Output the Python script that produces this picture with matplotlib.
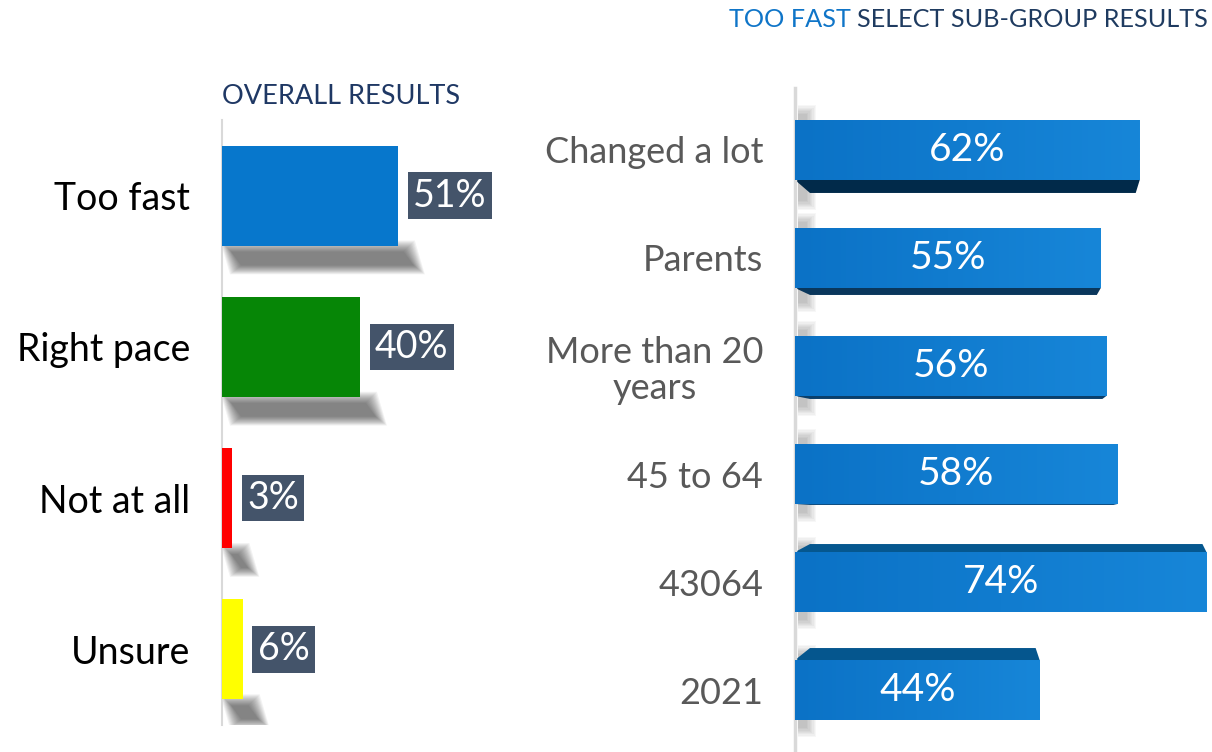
import numpy as np
import matplotlib.pyplot as plt
from matplotlib.patches import Polygon
from matplotlib.colors import LinearSegmentedColormap

plt.rcParams['font.family'] = ['Lato', 'DejaVu Sans']

# data
overall_labels = ["Too fast", "Right pace", "Not at all", "Unsure"]
overall_values = [51, 40, 3, 6]
overall_colors = ["#0777CC", "#068606", "#FF0000", "#FFFF00"]

sub_labels = ["Changed a lot", "Parents", "More than 20\nyears", "45 to 64", "43064", "2021"]
sub_values = [62, 55, 56, 58, 74, 44]

# 3d look of the right bars: depth in px (+ = bottom face visible, - = top face)
sub_depth = [13, 7, 3, 1, -8, -12]
depth_colors = ["#012A4A", "#0A375C", "#0A3F6B", "#0A4A7E", "#05578F", "#05568E"]

W, H = 1212, 752
fig = plt.figure(figsize=(W / 100, H / 100), dpi=100)


def px_axes(l, t, r, b):
    return fig.add_axes([l / W, 1 - b / H, (r - l) / W, (b - t) / H])


# %% left panel
axl = px_axes(222, 120, 522, 725)
n = len(overall_values)
y = np.arange(n)
bh = 0.66
ux = 300 / 87.0   # px per unit x
uy = 605 / 4.0    # px per unit y

for i, v in enumerate(overall_values):
    # soft slanted shadow under the bar
    yb = i + bh / 2
    for k in range(12):
        g = (11 - k) * 1.0
        x0 = (9 - g) / ux
        x1 = v + (6 + g) / ux
        s = 10 / ux
        d = (20 + g * 0.8) / uy
        top = yb + (6 - g) / uy
        poly = Polygon([(x0, top), (x1, top), (x1 + s, yb + d), (x0 + s, yb + d)],
                       closed=True, fc="black", ec="none", alpha=0.05, zorder=1)
        axl.add_patch(poly)

axl.barh(y, overall_values, height=bh, color=overall_colors, zorder=3)

for i, v in enumerate(overall_values):
    axl.annotate(f"{v}%", xy=(v, i), xytext=(15, 0), textcoords="offset pixels",
                 ha="left", va="center", color="white", fontsize=27,
                 bbox=dict(boxstyle="square,pad=0.14", fc="#44546A", ec="none"),
                 zorder=4)

axl.set_xlim(0, 87)
axl.set_ylim(n - 0.5, -0.5)
axl.set_yticks(y)
axl.set_yticklabels(overall_labels, fontsize=27, color="black")
axl.tick_params(axis="y", length=0, pad=23)
axl.set_xticks([])
for sp in ["top", "right", "bottom"]:
    axl.spines[sp].set_visible(False)
axl.spines["left"].set_color("#D9D9D9")
axl.spines["left"].set_linewidth(1.5)

fig.text(222 / W, 1 - 104 / H, "OVERALL RESULTS", fontsize=19.5, color="#1F3864",
         ha="left", va="baseline")

# %% right panel
axr = px_axes(795, 88, 1212, 752)
m = len(sub_values)
yr = np.arange(m)
rh = 0.555
rx = 417 / 75.0
ry = 664 / (m + 0.148)

cmap = LinearSegmentedColormap.from_list("bar", ["#0B72C6", "#1786D8"])
grad = np.linspace(0, 1, 256).reshape(1, -1)

for i, v in enumerate(sub_values):
    top = i - rh / 2
    bot = i + rh / 2
    d = sub_depth[i]
    # soft shadow next to the axis
    for k in range(8):
        g = (7 - k) * 1.3
        y0 = top - (6 + g) / ry
        y1 = bot + (max(d, 0) + 8 + g) / ry
        sh = Polygon([(3 / rx, y0), (12 / rx + g / rx, y0),
                      (12 / rx + g / rx, y1), (3 / rx, y1)],
                     closed=True, fc="black", ec="none", alpha=0.03, zorder=1)
        axr.add_patch(sh)
    # depth face
    if d != 0:
        edge = bot if d > 0 else top
        back = edge + d / ry
        face = Polygon([(0, edge), (v, edge), (v - 4 / rx, back), (15 / rx, back)],
                       closed=True, fc=depth_colors[i], ec="none", zorder=2)
        axr.add_patch(face)
    axr.imshow(grad, extent=(0, v, bot, top), cmap=cmap, aspect="auto", zorder=3)
    axr.text(v / 2, i, f"{v}%", ha="center", va="center", color="white",
             fontsize=28, zorder=4)

axr.set_xlim(0, 75)
axr.set_ylim(m - 0.5 + 0.074, -0.574)
axr.set_yticks(yr)
axr.set_yticklabels(sub_labels, fontsize=26, color="#595959", linespacing=1.1)
for lab in axr.get_yticklabels():
    lab.set_multialignment("center")
axr.tick_params(axis="y", length=0, pad=23)
axr.set_xticks([])
for sp in ["top", "right", "bottom"]:
    axr.spines[sp].set_visible(False)
axr.spines["left"].set_color("#D9D9D9")
axr.spines["left"].set_linewidth(2.5)

t2 = fig.text(1208 / W, 1 - 27 / H, "SELECT SUB-GROUP RESULTS", fontsize=18.2,
              color="#1F3B60", ha="right", va="baseline")
fig.canvas.draw()
bb = t2.get_window_extent()
fig.text(bb.x0 / W, 1 - 27 / H, "TOO FAST ", fontsize=18.2, color="#0F75C8",
         ha="right", va="baseline")

fig.savefig("out.png", dpi=100)
